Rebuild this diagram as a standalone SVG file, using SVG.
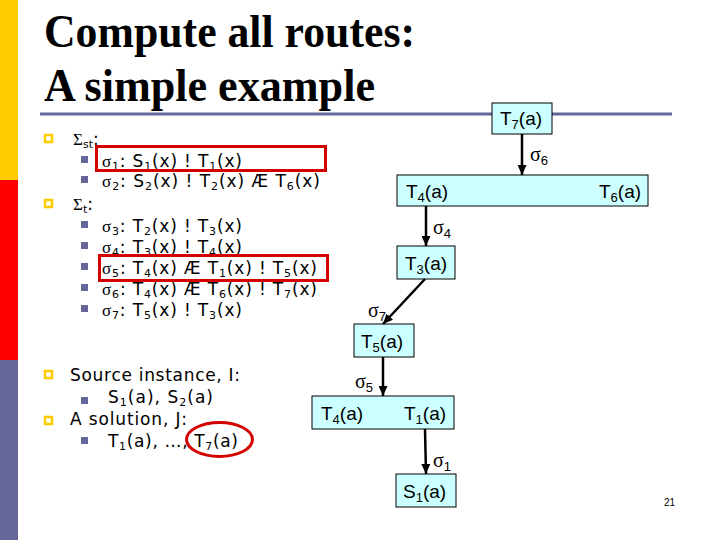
<svg xmlns="http://www.w3.org/2000/svg" width="720" height="540" viewBox="0 0 720 540">
<style>
.title{font-family:"Liberation Serif","Times New Roman",serif;font-weight:bold;font-size:47px;fill:#000}
.t{font-family:"DejaVu Sans",Verdana,sans-serif;font-size:17px;fill:#000}
.g{font-family:"Liberation Serif",serif}
.s{font-size:11px}
.node rect{fill:#ccffff;stroke:#000;stroke-width:1}
.nt{font-family:"Liberation Sans",Arial,sans-serif;font-size:19px;fill:#000}
.ns{font-size:13px}
.lab{font-family:"Liberation Serif",serif;font-size:20px;fill:#000}
.conn line{stroke:#000;stroke-width:2.5;marker-end:url(#ah)}
.yb{fill:none;stroke:#ffcc00;stroke-width:2.5}
.pb{fill:#666699}
.hl{fill:none;stroke:#d40000;stroke-width:3}
</style>
<defs>
<marker id="ah" markerUnits="userSpaceOnUse" markerWidth="10" markerHeight="9" refX="10" refY="4.5" orient="auto"><path d="M0,0 L10,4.5 L0,9 z" fill="#000"/></marker>
</defs>
<rect x="0" y="0" width="720" height="540" fill="#fff"/>
<!-- side bar -->
<rect x="0" y="0" width="18" height="180" fill="#ffcc00"/>
<rect x="0" y="180" width="18" height="180" fill="#ff0000"/>
<rect x="0" y="360" width="18" height="180" fill="#666699"/>
<!-- title -->
<text class="title" x="44" y="47" textLength="371" lengthAdjust="spacingAndGlyphs">Compute all routes:</text>
<text class="title" x="44" y="101" textLength="331" lengthAdjust="spacingAndGlyphs">A simple example</text>
<line x1="40" y1="114" x2="672" y2="114" stroke="#666699" stroke-width="3"/>

<!-- left bullets -->
<g id="bullets">
<rect class="yb" x="45" y="135" width="7" height="7"/>
<rect class="pb" x="81" y="156" width="7" height="7"/>
<rect class="pb" x="81" y="176" width="7" height="7"/>
<rect class="yb" x="45" y="200" width="7" height="7"/>
<rect class="pb" x="81" y="221" width="7" height="7"/>
<rect class="pb" x="81" y="242" width="7" height="7"/>
<rect class="pb" x="81" y="263" width="7" height="7"/>
<rect class="pb" x="81" y="284" width="7" height="7"/>
<rect class="pb" x="81" y="305" width="7" height="7"/>
<rect class="yb" x="45" y="371" width="7" height="7"/>
<rect class="pb" x="81" y="397" width="7" height="7"/>
<rect class="yb" x="45" y="417" width="7" height="7"/>
<rect class="pb" x="81" y="437" width="7" height="7"/>
</g>
<g id="rules-text">
<text class="t" x="73" y="145"><tspan class="g">Σ</tspan><tspan class="s" dy="3">st</tspan><tspan dy="-3">:</tspan></text>
<text class="t" x="102" y="167" textLength="140" lengthAdjust="spacing"><tspan class="g">σ</tspan><tspan class="s" dy="3">1</tspan><tspan dy="-3">: S</tspan><tspan class="s" dy="3">1</tspan><tspan dy="-3">(x) ! T</tspan><tspan class="s" dy="3">1</tspan><tspan dy="-3">(x)</tspan></text>
<text class="t" x="102" y="187" textLength="218" lengthAdjust="spacing"><tspan class="g">σ</tspan><tspan class="s" dy="3">2</tspan><tspan dy="-3">: S</tspan><tspan class="s" dy="3">2</tspan><tspan dy="-3">(x) ! T</tspan><tspan class="s" dy="3">2</tspan><tspan dy="-3">(x) Æ T</tspan><tspan class="s" dy="3">6</tspan><tspan dy="-3">(x)</tspan></text>
<text class="t" x="73" y="210"><tspan class="g">Σ</tspan><tspan class="s" dy="3">t</tspan><tspan dy="-3">:</tspan></text>
<text class="t" x="102" y="232" textLength="140" lengthAdjust="spacing"><tspan class="g">σ</tspan><tspan class="s" dy="3">3</tspan><tspan dy="-3">: T</tspan><tspan class="s" dy="3">2</tspan><tspan dy="-3">(x) ! T</tspan><tspan class="s" dy="3">3</tspan><tspan dy="-3">(x)</tspan></text>
<text class="t" x="102" y="253" textLength="140" lengthAdjust="spacing"><tspan class="g">σ</tspan><tspan class="s" dy="3">4</tspan><tspan dy="-3">: T</tspan><tspan class="s" dy="3">3</tspan><tspan dy="-3">(x) ! T</tspan><tspan class="s" dy="3">4</tspan><tspan dy="-3">(x)</tspan></text>
<text class="t" x="102" y="274" textLength="215" lengthAdjust="spacing"><tspan class="g">σ</tspan><tspan class="s" dy="3">5</tspan><tspan dy="-3">: T</tspan><tspan class="s" dy="3">4</tspan><tspan dy="-3">(x) Æ T</tspan><tspan class="s" dy="3">1</tspan><tspan dy="-3">(x) ! T</tspan><tspan class="s" dy="3">5</tspan><tspan dy="-3">(x)</tspan></text>
<text class="t" x="102" y="295" textLength="215" lengthAdjust="spacing"><tspan class="g">σ</tspan><tspan class="s" dy="3">6</tspan><tspan dy="-3">: T</tspan><tspan class="s" dy="3">4</tspan><tspan dy="-3">(x) Æ T</tspan><tspan class="s" dy="3">6</tspan><tspan dy="-3">(x) ! T</tspan><tspan class="s" dy="3">7</tspan><tspan dy="-3">(x)</tspan></text>
<text class="t" x="102" y="316" textLength="140" lengthAdjust="spacing"><tspan class="g">σ</tspan><tspan class="s" dy="3">7</tspan><tspan dy="-3">: T</tspan><tspan class="s" dy="3">5</tspan><tspan dy="-3">(x) ! T</tspan><tspan class="s" dy="3">3</tspan><tspan dy="-3">(x)</tspan></text>
<text class="t" x="70" y="381" textLength="170" lengthAdjust="spacing">Source instance, I:</text>
<text class="t" x="108" y="403" textLength="105" lengthAdjust="spacing">S<tspan class="s" dy="3">1</tspan><tspan dy="-3">(a), S</tspan><tspan class="s" dy="3">2</tspan><tspan dy="-3">(a)</tspan></text>
<text class="t" x="70" y="425" textLength="117" lengthAdjust="spacing">A solution, J:</text>
<text class="t" x="108" y="447" textLength="130" lengthAdjust="spacing">T<tspan class="s" dy="3">1</tspan><tspan dy="-3">(a), …, T</tspan><tspan class="s" dy="3">7</tspan><tspan dy="-3">(a)</tspan></text>
</g>
<g id="highlights">
<rect class="hl" x="96.5" y="146.5" width="229" height="24"/>
<rect class="hl" x="99.5" y="255.5" width="228" height="25"/>
<ellipse class="hl" cx="219.5" cy="439.5" rx="33" ry="17"/>
</g>

<!-- nodes -->
<g id="n-t7" class="node"><rect x="492" y="103" width="60" height="31"/><text class="nt" x="500" y="125">T<tspan class="ns" dy="4">7</tspan><tspan dy="-4">(a)</tspan></text></g>
<g id="n-t4t6" class="node"><rect x="397" y="175" width="251" height="31"/><text class="nt" x="406" y="198">T<tspan class="ns" dy="4">4</tspan><tspan dy="-4">(a)</tspan></text><text class="nt" x="599" y="198">T<tspan class="ns" dy="4">6</tspan><tspan dy="-4">(a)</tspan></text></g>
<g id="n-t3" class="node"><rect x="397" y="246" width="58" height="33"/><text class="nt" x="405" y="270">T<tspan class="ns" dy="4">3</tspan><tspan dy="-4">(a)</tspan></text></g>
<g id="n-t5" class="node"><rect x="354" y="324" width="60" height="33"/><text class="nt" x="361" y="348">T<tspan class="ns" dy="4">5</tspan><tspan dy="-4">(a)</tspan></text></g>
<g id="n-t4t1" class="node"><rect x="312" y="396" width="142" height="33"/><text class="nt" x="321" y="420">T<tspan class="ns" dy="4">4</tspan><tspan dy="-4">(a)</tspan></text><text class="nt" x="404" y="420">T<tspan class="ns" dy="4">1</tspan><tspan dy="-4">(a)</tspan></text></g>
<g id="n-s1" class="node"><rect x="396" y="474" width="60" height="33"/><text class="nt" x="403" y="498">S<tspan class="ns" dy="4">1</tspan><tspan dy="-4">(a)</tspan></text></g>

<!-- connectors -->
<g id="connectors" class="conn">
<line x1="522" y1="134" x2="522" y2="175"/>
<line x1="426" y1="206" x2="426" y2="246"/>
<line x1="425" y1="279" x2="383" y2="324"/>
<line x1="383" y1="357" x2="383" y2="396"/>
<line x1="425" y1="429" x2="426" y2="474"/>
</g>
<g id="edge-labels">
<text class="lab" x="530" y="161">σ<tspan class="nt ns" dy="4">6</tspan></text>
<text class="lab" x="433" y="234">σ<tspan class="nt ns" dy="4">4</tspan></text>
<text class="lab" x="368" y="317">σ<tspan class="nt ns" dy="4">7</tspan></text>
<text class="lab" x="355" y="388">σ<tspan class="nt ns" dy="4">5</tspan></text>
<text class="lab" x="433" y="467">σ<tspan class="nt ns" dy="4">1</tspan></text>
</g>
<text x="664" y="506" font-family="Liberation Sans, Arial, sans-serif" font-size="10">21</text>
</svg>
